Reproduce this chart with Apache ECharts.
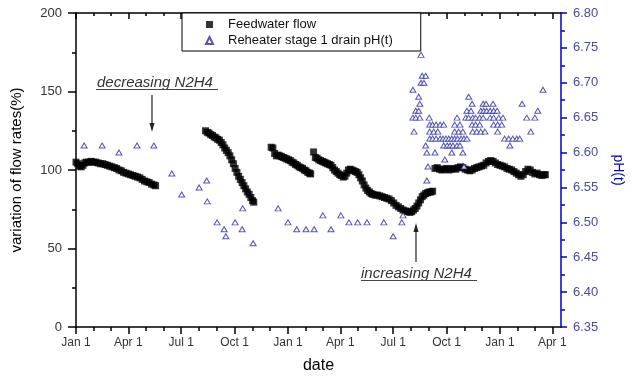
<!DOCTYPE html>
<html>
<head>
<meta charset="utf-8">
<script src="https://cdn.jsdelivr.net/npm/echarts@6/dist/echarts.min.js"></script>
<style>
  html, body { margin: 0; padding: 0; background: #fff; }
  #chart { width: 637px; height: 379px; }
</style>
</head>
<body>
<div id="chart"></div>
<script>
// x values: days since Jan 1 of the first year
const quarterDays = [0, 90, 181, 273, 365, 455, 546, 638, 730, 820];
const tickLabels = ['Jan 1', 'Apr 1', 'Jul 1', 'Oct 1', 'Jan 1', 'Apr 1', 'Jul 1', 'Oct 1', 'Jan 1', 'Apr 1'];
const monthDays = [0, 31, 59, 90, 120, 151, 181, 212, 243, 273, 304, 334,
                   365, 396, 424, 455, 485, 516, 546, 577, 608, 638, 669, 699,
                   730, 761, 789, 820];

// Feedwater flow (%)
const flowDay = [
  0, 3, 6, 9, 12, 15, 18, 22, 26, 30, 34, 38, 42, 46, 50, 54, 58, 62, 66, 70, 74, 78, 82, 86, 90, 94, 98, 102, 106, 110, 114, 118, 122, 126, 130, 134, 137,
  223, 226, 229, 232, 235, 238, 241, 244, 247, 250, 253, 256, 259, 262, 265, 268, 271, 274, 277, 280, 283, 286, 289, 292, 295, 298, 301, 304, 306,
  336, 339, 342, 345, 348, 351, 354, 357, 360, 363, 366, 369, 372, 375, 378, 381, 384, 387, 390, 393, 396, 399, 402, 404,
  409, 412, 415, 418, 421, 424, 427, 430, 433, 436, 439, 442, 445, 448, 451, 454, 457, 460, 463, 466, 469, 472, 475, 478, 481, 484, 487, 490, 493, 496, 499, 502, 505, 508, 511, 515, 519, 523, 527, 531, 535, 539, 543, 547, 551, 555, 559, 563, 567, 571, 575, 578, 581, 584, 587, 590, 593, 596, 599, 602, 605, 608, 611, 614,
  618, 622, 626, 630, 634, 638, 642, 646, 650, 654, 658, 662, 666, 670, 674, 678, 682, 686, 690, 694, 698, 702, 706, 710, 714, 718, 722, 726, 730, 734, 738, 742, 746, 750, 754, 758, 762, 766, 770, 774, 778, 782, 786, 790, 794, 798, 802, 806, 808
];
const flowPct = [
  105, 104, 102.5, 102, 103, 104.5, 105, 105, 105.5, 105, 105, 104.5, 104, 104, 103.5, 103, 102.5, 102, 101.5, 101, 100, 99.5, 98.5, 98, 97.5, 97, 96.5, 96, 95.5, 95, 94, 93, 92.5, 92, 91, 90.5, 90,
  125, 124, 123.5, 122.5, 122, 121, 120.5, 119.5, 119, 117.5, 116, 114, 112.5, 111, 109, 106.5, 104, 101, 98.5, 96, 94, 92, 90, 88, 86, 84.5, 82.5, 80.5, 79.5,
  114.5, 114, 110.5, 109, 109.5, 109, 108.5, 108, 107.5, 107, 106.5, 106, 105, 104.5, 103.5, 103, 102, 101.5, 101, 100, 99.5, 98.5, 98, 97.5,
  111.5, 108, 107.5, 106.5, 106, 105.5, 105, 104.5, 104, 103.5, 103, 101.5, 100, 99, 98, 97, 96.5, 95.5, 96, 98, 100, 100.5, 100, 99.5, 99, 98.5, 97, 95, 93, 90.5, 88.5, 87, 86, 85, 84.5, 84, 84, 83.5, 83, 82.5, 82, 81.5, 80.5, 79, 77.5, 76.5, 75.5, 74.5, 74, 73.5, 73, 73.5, 74.5, 75.5, 77, 79, 81, 83, 84, 85, 85.5, 86, 86, 86.5,
  101, 101.5, 100.5, 100, 100.5, 101, 100, 100.5, 101, 100.5, 101.5, 102, 101.5, 100.5, 100, 99.5, 100, 101, 101.5, 102, 102.5, 103, 104.5, 105.5, 106, 105.5, 104.5, 103.5, 103, 102.5, 102, 101, 100.5, 100, 99, 98, 97, 96, 97, 99, 100.5, 100, 98.5, 97.5, 98, 97, 96.5, 97, 97
];

// Reheater stage 1 drain pH(t)
const phDay = [
  14, 45, 74, 105, 134, 165, 182, 212, 225, 226, 243, 255, 258, 274, 286, 287, 305, 348, 365, 380, 396, 410, 425, 439, 456, 470, 485, 501, 530, 546, 561, 563,
  594, 596, 602, 594, 599, 580, 590, 592, 585, 590, 580, 585, 592, 608, 582,
  609, 614, 620, 627, 633, 609, 616, 623,
  609, 614, 620, 627, 632, 637, 642, 647, 652, 657, 663, 668, 673,
  602, 633, 639, 644, 649, 656, 661, 604, 618, 647, 666, 635, 606, 668, 604,
  656, 652, 661, 652, 659, 666,
  676, 682, 673, 680, 671, 676, 683, 688, 695, 701, 682, 688, 695, 683, 690, 697, 704,
  701, 706, 718, 697, 702, 707, 713, 719, 725, 713, 719, 728, 735, 719, 726, 733, 726,
  738, 745, 752, 759, 764, 747, 768, 776, 790, 783, 795, 804
];
const phVal = [
  6.61, 6.61, 6.60, 6.61, 6.61, 6.57, 6.54, 6.55, 6.56, 6.53, 6.50, 6.49, 6.48, 6.50, 6.49, 6.52, 6.47, 6.52, 6.50, 6.49, 6.49, 6.49, 6.51, 6.49, 6.51, 6.50, 6.50, 6.50, 6.50, 6.48, 6.50, 6.51,
  6.74, 6.71, 6.71, 6.70, 6.70, 6.69, 6.68, 6.67, 6.66, 6.66, 6.65, 6.65, 6.65, 6.65, 6.63,
  6.64, 6.64, 6.64, 6.64, 6.64, 6.63, 6.63, 6.63,
  6.62, 6.62, 6.62, 6.62, 6.62, 6.62, 6.62, 6.62, 6.62, 6.62, 6.62, 6.62, 6.62,
  6.61, 6.61, 6.61, 6.61, 6.61, 6.61, 6.61, 6.60, 6.60, 6.60, 6.60, 6.59, 6.58, 6.58, 6.56,
  6.65, 6.64, 6.64, 6.63, 6.63, 6.63,
  6.68, 6.67, 6.66, 6.66, 6.65, 6.65, 6.65, 6.65, 6.65, 6.65, 6.64, 6.64, 6.64, 6.63, 6.63, 6.63, 6.63,
  6.67, 6.67, 6.67, 6.66, 6.66, 6.66, 6.66, 6.66, 6.66, 6.65, 6.65, 6.65, 6.65, 6.64, 6.64, 6.64, 6.63,
  6.62, 6.62, 6.62, 6.62, 6.62, 6.61, 6.67, 6.65, 6.65, 6.63, 6.66, 6.69
];

const FONT = '"Liberation Sans", Arial, sans-serif';
const chart = echarts.init(document.getElementById('chart'), null, { renderer: 'canvas' });

const xBase = { type: 'value', min: 0, max: 835, splitLine: { show: false }, gridIndex: 0 };

chart.setOption({
  animation: false,
  backgroundColor: '#fff',
  textStyle: { fontFamily: FONT },
  grid: { left: 76, right: 76, top: 13, bottom: 52, containLabel: false },
  legend: {
    orient: 'vertical', left: 182, top: 13,
    backgroundColor: '#fff', borderColor: '#000', borderWidth: 1,
    padding: [5, 28, 4, 23], itemGap: 3, itemWidth: 7, itemHeight: 7,
    textStyle: { fontSize: 13, color: '#111', fontFamily: FONT, padding: [0, 0, 0, 10] },
    data: ['Feedwater flow', 'Reheater stage 1 drain pH(t)']
  },
  xAxis: [
    Object.assign({}, xBase, {
      position: 'bottom',
      axisLine: { show: true, onZero: false, lineStyle: { color: '#000', width: 1.5 } },
      axisTick: { show: true, customValues: quarterDays, length: 7, lineStyle: { color: '#000', width: 1.5 } },
      axisLabel: { show: true, customValues: quarterDays, margin: 10, fontSize: 12, color: '#333', fontFamily: FONT,
        formatter: function (v) { const i = quarterDays.indexOf(Math.round(v)); return i >= 0 ? tickLabels[i] : ''; } },
      name: 'date', nameLocation: 'middle', nameGap: 31,
      nameTextStyle: { fontSize: 16, color: '#000', fontFamily: FONT }
    }),
    Object.assign({}, xBase, {
      position: 'bottom',
      axisLine: { show: false, onZero: false },
      axisTick: { show: true, customValues: monthDays, length: 4, lineStyle: { color: '#000', width: 1.5 } },
      axisLabel: { show: false }
    }),
    Object.assign({}, xBase, {
      position: 'top',
      axisLine: { show: true, onZero: false, lineStyle: { color: '#000', width: 1.5 } },
      axisTick: { show: true, inside: true, customValues: quarterDays, length: 6, lineStyle: { color: '#000', width: 1.5 } },
      axisLabel: { show: false }
    }),
    Object.assign({}, xBase, {
      position: 'top',
      axisLine: { show: false, onZero: false },
      axisTick: { show: true, inside: true, customValues: monthDays, length: 3, lineStyle: { color: '#000', width: 1.5 } },
      axisLabel: { show: false }
    })
  ],
  yAxis: [
    {
      type: 'value', position: 'left', min: 0, max: 200, interval: 50,
      axisLine: { show: true, onZero: false, lineStyle: { color: '#000', width: 1.5 } },
      axisTick: { show: true, length: 8, lineStyle: { color: '#000', width: 1.5 } },
      minorTick: { show: true, splitNumber: 2, length: 4, lineStyle: { color: '#000', width: 1.5 } },
      axisLabel: { margin: 14, fontSize: 13, color: '#333', fontFamily: FONT },
      splitLine: { show: false },
      name: 'variation of flow rates(%)', nameLocation: 'middle', nameGap: 52,
      nameTextStyle: { fontSize: 15, color: '#000', fontFamily: FONT }
    },
    {
      type: 'value', position: 'right', min: 6.35, max: 6.8, interval: 0.05,
      axisLine: { show: true, onZero: false, lineStyle: { color: '#0000cc', width: 1.5 } },
      axisTick: { show: true, length: 6, lineStyle: { color: '#0000cc', width: 1.5 } },
      minorTick: { show: true, splitNumber: 2, length: 4, lineStyle: { color: '#0000cc', width: 1.5 } },
      axisLabel: { margin: 12, fontSize: 13, color: '#4a4aa6', fontFamily: FONT,
        formatter: function (v) { return v.toFixed(2); } },
      splitLine: { show: false },
      name: 'pH(t)', nameLocation: 'middle', nameRotate: -90, nameGap: 50,
      nameTextStyle: { fontSize: 14, color: '#0000cc', fontFamily: FONT }
    }
  ],
  series: [
    {
      name: 'Feedwater flow', type: 'scatter', xAxisIndex: 0, yAxisIndex: 0,
      symbol: 'rect', symbolSize: 7,
      itemStyle: { color: '#000' },
      data: flowDay.map(function (d, i) { return [d, flowPct[i]]; })
    },
    {
      name: 'Reheater stage 1 drain pH(t)', type: 'scatter', xAxisIndex: 0, yAxisIndex: 1,
      symbol: 'triangle', symbolSize: [6, 5],
      itemStyle: { color: '#fff', borderColor: '#2a2aa8', borderWidth: 1 },
      data: phDay.map(function (d, i) { return [d, phVal[i]]; })
    }
  ],
  graphic: [
    { type: 'text', z: 100, style: { text: 'decreasing N2H4', x: 97, y: 83, verticalAlign: 'middle',
        font: 'italic 15px "Liberation Sans", Arial, sans-serif', fill: '#333' } },
    { type: 'line', z: 100, shape: { x1: 96, y1: 89.5, x2: 218, y2: 89.5 }, style: { stroke: '#444', lineWidth: 1 } },
    { type: 'line', z: 100, shape: { x1: 152, y1: 95, x2: 152, y2: 126 }, style: { stroke: '#222', lineWidth: 1.2 } },
    { type: 'polygon', z: 100, shape: { points: [[149.5, 123], [154.5, 123], [152, 132]] }, style: { fill: '#222' } },
    { type: 'text', z: 100, style: { text: 'increasing N2H4', x: 361, y: 274, verticalAlign: 'middle',
        font: 'italic 15px "Liberation Sans", Arial, sans-serif', fill: '#333' } },
    { type: 'line', z: 100, shape: { x1: 361, y1: 280.5, x2: 477, y2: 280.5 }, style: { stroke: '#444', lineWidth: 1 } },
    { type: 'line', z: 100, shape: { x1: 416, y1: 262, x2: 416, y2: 230 }, style: { stroke: '#222', lineWidth: 1.2 } },
    { type: 'polygon', z: 100, shape: { points: [[413.5, 232], [418.5, 232], [416, 223]] }, style: { fill: '#222' } }
  ]
});
</script>
</body>
</html>
